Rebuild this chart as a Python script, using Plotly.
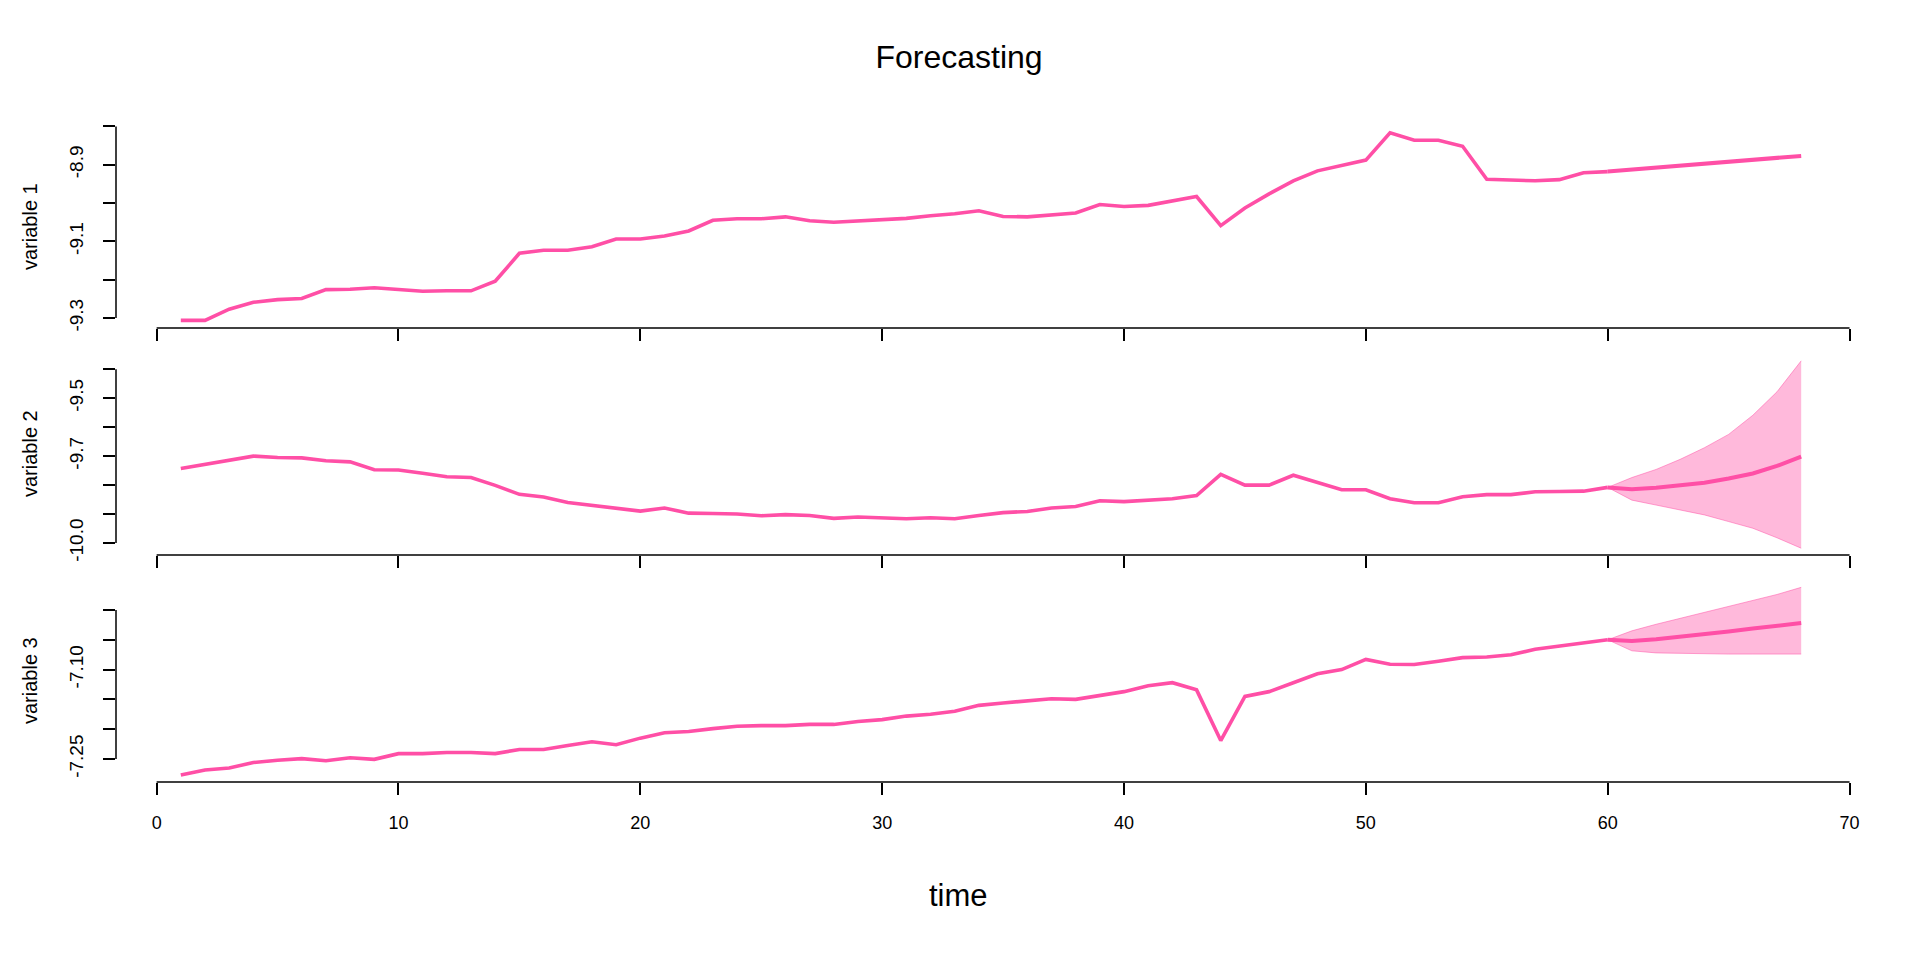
import plotly.graph_objects as go

# ---------------- data ----------------
time_hist = list(range(1, 61))
time_fc = [60, 61, 62, 63, 64, 65, 66, 67, 68]

var1 = [-9.306, -9.306, -9.277, -9.259, -9.252, -9.249, -9.226, -9.225, -9.221, -9.226,
        -9.230, -9.229, -9.229, -9.204, -9.131, -9.123, -9.123, -9.114, -9.094, -9.094,
        -9.086, -9.073, -9.045, -9.041, -9.041, -9.036, -9.046, -9.050, -9.047, -9.042,
        -9.040, -9.033, -9.028, -9.020, -9.035, -9.036, -9.030, -9.026, -9.004, -9.009,
        -9.006, -8.994, -8.983, -9.059, -9.013, -8.976, -8.942, -8.916, -8.901, -8.888,
        -8.817, -8.836, -8.836, -8.852, -8.938, -8.940, -8.942, -8.939, -8.921, -8.918]
var1_fc = [-8.918, -8.913, -8.908, -8.903, -8.898, -8.893, -8.888, -8.882, -8.877]

var2 = [-9.743, -9.729, -9.715, -9.700, -9.705, -9.706, -9.716, -9.720, -9.747, -9.748,
        -9.759, -9.771, -9.774, -9.801, -9.832, -9.841, -9.860, -9.870, -9.880, -9.890,
        -9.879, -9.897, -9.898, -9.900, -9.906, -9.902, -9.905, -9.915, -9.910, -9.913,
        -9.916, -9.913, -9.916, -9.905, -9.895, -9.891, -9.879, -9.874, -9.854, -9.857,
        -9.851, -9.847, -9.836, -9.763, -9.800, -9.800, -9.766, -9.792, -9.816, -9.816,
        -9.847, -9.861, -9.861, -9.840, -9.833, -9.833, -9.823, -9.822, -9.821, -9.808]
var2_fc = [-9.808, -9.814, -9.809, -9.802, -9.792, -9.777, -9.760, -9.734, -9.702]
var2_up = [-9.808, -9.774, -9.746, -9.711, -9.671, -9.625, -9.559, -9.478, -9.371]
var2_lo = [-9.808, -9.852, -9.869, -9.886, -9.903, -9.926, -9.949, -9.982, -10.018]

var3 = [-7.277, -7.2685, -7.265, -7.256, -7.252, -7.2494, -7.253, -7.248, -7.2506, -7.241,
        -7.241, -7.239, -7.239, -7.241, -7.234, -7.234, -7.2275, -7.221, -7.226, -7.215,
        -7.206, -7.204, -7.199, -7.195, -7.194, -7.194, -7.192, -7.192, -7.187, -7.184,
        -7.178, -7.175, -7.170, -7.160, -7.156, -7.153, -7.149, -7.150, -7.143, -7.137,
        -7.127, -7.122, -7.134, -7.219, -7.145, -7.137, -7.122, -7.107, -7.100, -7.083,
        -7.091, -7.0915, -7.086, -7.080, -7.079, -7.075, -7.066, -7.0605, -7.056, -7.050]
var3_fc = [-7.050, -7.052, -7.049, -7.045, -7.040, -7.036, -7.031, -7.027, -7.022]
var3_up = [-7.050, -7.035, -7.024, -7.014, -7.004, -6.995, -6.985, -6.974, -6.962]
var3_lo = [-7.050, -7.0685, -7.072, -7.073, -7.074, -7.074, -7.074, -7.074, -7.074]

x_ticks = [0, 10, 20, 30, 40, 50, 60, 70]
y1_ticks = [-9.3, -9.2, -9.1, -9.0, -8.9, -8.8]
y1_text = ["-9.3", "", "-9.1", "", "-8.9", ""]
y2_ticks = [-10.0, -9.9, -9.8, -9.7, -9.6, -9.5, -9.4]
y2_text = ["-10.0", "", "", "-9.7", "", "-9.5", ""]
y3_ticks = [-7.25, -7.20, -7.15, -7.10, -7.05, -7.00]
y3_text = ["-7.25", "", "", "-7.10", "", ""]
panel_names = ["variable 1", "variable 2", "variable 3"]

# ---------------- style ----------------
LINE = "#FF4FA6"
FILL = "rgba(255,79,166,0.40)"
FONT = "Liberation Sans, Arial, Helvetica, sans-serif"

# the page body adds an 8px margin, so the figure is laid out 8px smaller
W, H = 1904, 944
OFF = 8
L, R_EDGE, T, B_EDGE = 116 - OFF, 1866 - OFF, 126 - OFF, 782 - OFF
PW, PH = R_EDGE - L, B_EDGE - T

fig = go.Figure()


def add_fan(xa, ya, up, lo):
    fig.add_trace(go.Scatter(x=time_fc, y=lo, mode="lines", xaxis=xa, yaxis=ya,
                             line=dict(color="rgba(255,79,166,0.5)", width=1),
                             showlegend=False, hoverinfo="skip"))
    fig.add_trace(go.Scatter(x=time_fc, y=up, mode="lines", xaxis=xa, yaxis=ya,
                             fill="tonexty", fillcolor=FILL,
                             line=dict(color="rgba(255,79,166,0.5)", width=1),
                             showlegend=False, hoverinfo="skip"))


add_fan("x2", "y2", var2_up, var2_lo)
add_fan("x3", "y3", var3_up, var3_lo)

for xa, ya, hist, fc in [("x", "y", var1, var1_fc), ("x2", "y2", var2, var2_fc),
                         ("x3", "y3", var3, var3_fc)]:
    fig.add_trace(go.Scatter(x=time_hist, y=hist, mode="lines", xaxis=xa, yaxis=ya,
                             line=dict(color=LINE, width=3.6), showlegend=False))
    fig.add_trace(go.Scatter(x=time_fc, y=fc, mode="lines", xaxis=xa, yaxis=ya,
                             line=dict(color=LINE, width=4), showlegend=False))

xrange = [-1.68, 70.68]
domains = [[(782 - 328) / 656, 1.0], [(782 - 555) / 656, (782 - 353) / 656],
           [0.0, (782 - 580) / 656]]
yranges = [[-9.326, -8.799], [-10.0414, -9.344], [-7.2886, -6.9497]]
yticks = [(y1_ticks, y1_text), (y2_ticks, y2_text), (y3_ticks, y3_text)]

layout = dict(
    width=W, height=H,
    margin=dict(l=L, r=W - R_EDGE, t=T, b=H - B_EDGE, pad=0),
    paper_bgcolor="white", plot_bgcolor="white",
    font=dict(family=FONT, color="black", size=19),
    title=dict(text="Forecasting", x=(959 - OFF) / W, xref="container", xanchor="center",
               y=1 - (57 - OFF) / H, yref="container", yanchor="middle",
               font=dict(family=FONT, size=32, color="black")),
    showlegend=False,
)

shapes = []
annotations = []
for i in range(3):
    sfx = "" if i == 0 else str(i + 1)
    layout["xaxis" + sfx] = dict(
        domain=[0, 1], range=xrange, anchor="y" + sfx,
        tickvals=x_ticks, ticktext=[str(v) for v in x_ticks],
        showticklabels=(i == 2), ticks="outside", ticklen=12, tickwidth=1.5,
        tickcolor="black", showline=False, showgrid=False, zeroline=False,
        tickfont=dict(size=18), ticklabelstandoff=12,
    )
    tv, tt = yticks[i]
    layout["yaxis" + sfx] = dict(
        domain=domains[i], range=yranges[i], anchor="x" + sfx,
        tickvals=tv, ticktext=tt, tickangle=-90,
        ticks="outside", ticklen=12, tickwidth=1.5, tickcolor="black",
        showline=False, showgrid=False, zeroline=False,
        tickfont=dict(size=19), ticklabelstandoff=12,
    )
    shapes.append(dict(type="line", xref="x" + sfx, yref="y" + sfx + " domain",
                       x0=x_ticks[0], x1=x_ticks[-1], y0=0, y1=0,
                       line=dict(color="black", width=1.5)))
    shapes.append(dict(type="line", xref="x" + sfx + " domain", yref="y" + sfx,
                       x0=0, x1=0, y0=tv[0], y1=tv[-1],
                       line=dict(color="black", width=1.5)))
    annotations.append(dict(text=panel_names[i], xref="paper", yref="y" + sfx + " domain",
                            x=(30 - 116) / PW, y=0.5, xanchor="center", yanchor="middle",
                            textangle=-90, showarrow=False,
                            font=dict(family=FONT, size=20, color="black")))

annotations.append(dict(text="time", xref="paper", yref="paper",
                        x=(958 - 116) / PW, y=(782 - 895) / PH,
                        xanchor="center", yanchor="middle", showarrow=False,
                        font=dict(family=FONT, size=31, color="black")))

layout["shapes"] = shapes
layout["annotations"] = annotations
fig.update_layout(**layout)

fig.write_html("out.html")
